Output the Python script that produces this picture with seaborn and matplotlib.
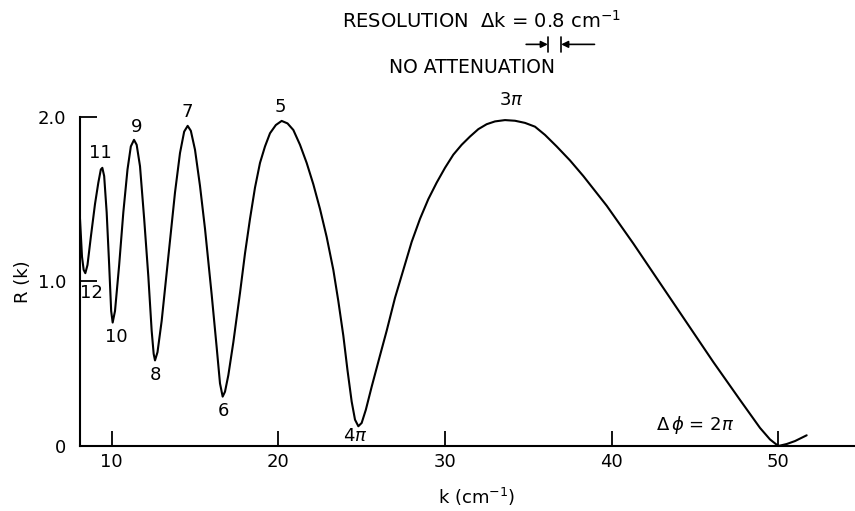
import matplotlib
matplotlib.use("Agg")
import matplotlib.pyplot as plt
import seaborn as sns
import pandas as pd

# Reflectance R(k) versus wavenumber k (cm^-1)
k_values = [8.10, 8.22, 8.32, 8.42, 8.55, 8.75, 9.00, 9.20, 9.35, 9.44, 9.55, 9.70,
            9.85, 9.97, 10.06, 10.20, 10.45, 10.70, 10.95, 11.15, 11.34, 11.50,
            11.70, 11.95, 12.20, 12.40, 12.52, 12.60, 12.75, 13.00, 13.40, 13.80,
            14.10, 14.35, 14.56, 14.75, 15.00, 15.30, 15.60, 16.00, 16.30, 16.50,
            16.66, 16.80, 17.00, 17.30, 17.70, 18.00, 18.30, 18.60, 18.90, 19.20,
            19.50, 19.85, 20.20, 20.55, 20.90, 21.30, 21.70, 22.10, 22.50, 22.90,
            23.30, 23.60, 23.90, 24.15, 24.40, 24.60, 24.80, 25.00, 25.25, 25.60,
            26.10, 26.50, 27.00, 27.50, 28.00, 28.50, 29.00, 29.50, 30.00, 30.50,
            31.00, 31.50, 32.00, 32.50, 33.00, 33.60, 34.20, 34.80, 35.40, 36.00,
            36.70, 37.50, 38.30, 39.70, 41.30, 42.90, 44.50, 46.10, 47.70, 48.90,
            49.50, 50.00, 50.50, 51.00, 51.70]
r_values = [1.38, 1.15, 1.07, 1.05, 1.10, 1.27, 1.47, 1.60, 1.68, 1.69, 1.64, 1.42,
            1.10, 0.82, 0.75, 0.82, 1.10, 1.42, 1.68, 1.82, 1.86, 1.83,
            1.70, 1.38, 1.03, 0.70, 0.56, 0.52, 0.57, 0.76, 1.15, 1.54,
            1.78, 1.91, 1.945, 1.915, 1.80, 1.58, 1.32, 0.92, 0.60, 0.38,
            0.30, 0.33, 0.43, 0.63, 0.93, 1.17, 1.38, 1.57, 1.72, 1.82,
            1.90, 1.95, 1.975, 1.96, 1.92, 1.83, 1.72, 1.59, 1.44, 1.27,
            1.07, 0.88, 0.67, 0.46, 0.27, 0.16, 0.12, 0.14, 0.22, 0.36,
            0.55, 0.70, 0.90, 1.07, 1.24, 1.38, 1.50, 1.60, 1.69, 1.77,
            1.83, 1.88, 1.925, 1.955, 1.972, 1.98, 1.976, 1.963, 1.94, 1.89,
            1.82, 1.735, 1.64, 1.46, 1.23, 0.99, 0.75, 0.51, 0.28, 0.11,
            0.04, 0.00, 0.012, 0.03, 0.065]

# Order labels of the extrema
order_labels = ["12", "11", "10", "9", "8", "7", "6", "5", r"4$\pi$", r"3$\pi$"]
order_k = [8.8, 9.3, 10.3, 11.5, 12.6, 14.55, 16.7, 20.1, 24.6, 34.0]
order_r = [0.93, 1.78, 0.66, 1.94, 0.43, 2.03, 0.21, 2.06, 0.06, 2.10]

x_ticks = [10, 20, 30, 40, 50]
y_ticks = [0, 1.0, 2.0]
y_tick_labels = ["0", "1.0", "2.0"]

resolution_k = 0.8
resolution_start = 36.17

sns.set_theme(style="ticks")
plt.rcParams["font.family"] = ["DejaVu Sans"]
plt.rcParams["mathtext.fontset"] = "dejavusans"
plt.rcParams["text.color"] = "black"
plt.rcParams["axes.labelcolor"] = "black"
plt.rcParams["xtick.color"] = "black"
plt.rcParams["ytick.color"] = "black"

fig = plt.figure(figsize=(8.55, 5.11), dpi=100)
ax = fig.add_axes([80 / 855, 1 - 446 / 511, 775 / 855, 446 / 511])

df = pd.DataFrame({"k": k_values, "R": r_values})
sns.lineplot(data=df, x="k", y="R", sort=False, estimator=None, color="black",
             linewidth=1.5, ax=ax)
for line in ax.get_lines():
    line.set_solid_joinstyle("round")
    line.set_solid_capstyle("round")

ax.set_xlim(8.1, 54.6)
ax.set_ylim(0, 446 / 164.6)

for side in ["top", "right"]:
    ax.spines[side].set_visible(False)
ax.spines["left"].set_bounds(0, 2.0)
for side in ["left", "bottom"]:
    ax.spines[side].set_linewidth(1.5)
    ax.spines[side].set_color("black")

ax.set_xticks(x_ticks)
ax.set_xticklabels([str(t) for t in x_ticks])
ax.set_yticks(y_ticks)
ax.set_yticklabels(y_tick_labels)
ax.tick_params(axis="x", direction="in", length=11, width=1.3, pad=5,
               labelsize=13, colors="black")
ax.tick_params(axis="y", direction="in", length=12, width=1.3, pad=10,
               labelsize=13, colors="black")

ax.set_xlabel("")
ax.set_ylabel("")
ax.text(-57 / 775, 1.0, "R (k)", transform=ax.get_yaxis_transform(),
        rotation=90, ha="center", va="center", fontsize=13)
ax.text(31.9, -0.31, r"k (cm$^{-1}$)", ha="center", va="center", fontsize=13,
        clip_on=False)

for lab, kx, ry in zip(order_labels, order_k, order_r):
    ax.text(kx, ry, lab, ha="center", va="center", fontsize=13)

ax.text(45.0, 0.13, r"$\Delta\,\phi$ = 2$\pi$", ha="center", va="center", fontsize=13)

ax.text(32.2, 2.58, r"RESOLUTION  $\Delta$k = 0.8 cm$^{-1}$", ha="center",
        va="center", fontsize=14)
ax.text(31.6, 2.30, "NO ATTENUATION", ha="center", va="center", fontsize=13.5)

# Resolution bracket
bar_y = 2.44
left_bar = resolution_start
right_bar = resolution_start + resolution_k
for xb in (left_bar, right_bar):
    ax.plot([xb, xb], [bar_y - 0.045, bar_y + 0.045], color="black", lw=1.2,
            clip_on=False)
ax.annotate("", xy=(left_bar, bar_y), xytext=(left_bar - 1.3, bar_y),
            arrowprops=dict(arrowstyle="-|>", color="black", lw=1.2,
                            mutation_scale=10, shrinkA=0, shrinkB=0))
ax.annotate("", xy=(right_bar, bar_y), xytext=(right_bar + 2.0, bar_y),
            arrowprops=dict(arrowstyle="-|>", color="black", lw=1.2,
                            mutation_scale=10, shrinkA=0, shrinkB=0))

fig.savefig("out.png", dpi=100)
